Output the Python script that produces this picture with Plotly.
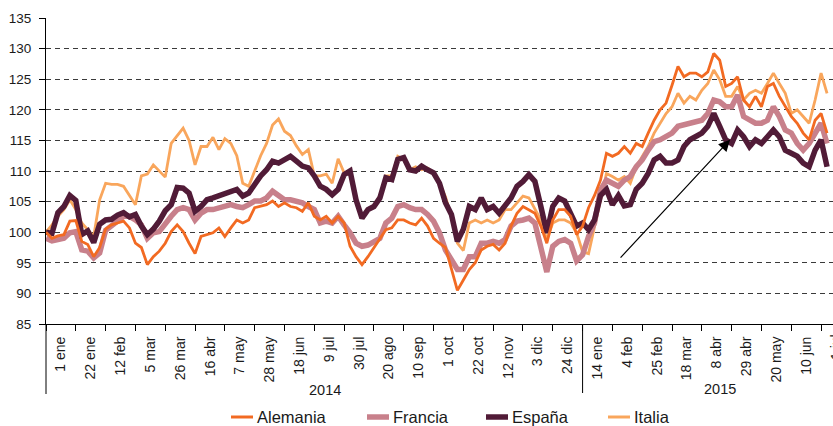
import plotly.graph_objects as go

# ---------------- data (index 100 = 1 ene 2014), one reading every 3 business days ----------------
alemania = [100, 99, 99.4, 99.6, 101.8, 101.9, 98.5, 98, 96, 97.5, 100.5, 101.2, 101.5, 101.8, 100.7, 98.2, 97.5, 94.7, 96, 96.9, 98.2, 100.1, 101.2, 100.1,
            98.2, 96.5, 99.3, 99.6, 99.9, 100.7, 99.3, 100.7, 102, 101.5, 102, 104, 104.2, 104.5, 105.1, 104.2, 104.8, 104.2, 104, 103.4, 104.8, 102.6,
            102, 102.6, 101.5, 102.6, 101.5, 97.7, 96, 94.7, 96, 97.4, 98.8, 100.4, 100.7, 102, 102, 101.5, 101.2, 102.3, 101, 99, 98.2, 97.5, 94,
            90.5, 92.2, 93.9, 95, 97.1, 97.7, 98, 97.1, 98.2, 101, 103.1, 104.2, 103.7, 103.1, 101, 98.2, 102, 103.7, 103.7, 102.6, 99.6, 101, 104,
            106, 108.5, 112.9, 112.4, 112.9, 114, 112.9, 114.5, 114, 116.2, 118.3, 120, 121.1, 124, 127.1, 125.4, 126, 126, 125.4, 126.2,
            129.2, 128.1, 123.8, 124.3, 125.4, 121.6, 120.5, 122.2, 120.5, 123.8, 124.3, 122.2, 120.5, 118.9, 117.8, 116.2, 115.1, 118.3, 119.4, 116.2]

francia = [99, 98.6, 98.8, 99, 99.9, 100.1, 97.1, 96.9, 95.8, 96.6, 100.3, 101.2, 101.8, 102.6, 102.6, 102, 101.2, 99, 99.9, 100.1, 101.5, 102.6, 103.7, 104,
           103.7, 102, 103.1, 103.7, 103.7, 104, 104.2, 104.5, 104.2, 104, 104.5, 105.1, 105.1, 105.6, 106.7, 106.1, 105.3, 105.3, 105.1, 104.8, 104.2, 103.7,
           101.5, 101.8, 101.5, 102.6, 101.2, 99.9, 98.2, 97.7, 97.9, 98.5, 99, 101.5, 102.3, 104.2, 104.5, 104, 103.7, 103.7, 102.9, 101.8, 99.9, 97.1, 95.5,
           93.9, 93.9, 96, 96, 98.2, 98.2, 98.5, 98.2, 98.8, 101, 101.8, 102, 102.3, 101.5, 97.1, 93.5, 97.7, 98.5, 98.8, 98.2, 95.3, 96.3, 99.3,
           101.5, 106.9, 108.5, 108, 107.5, 108.5, 109.1, 110.7, 111.8, 113.4, 114.8, 115.1, 115.6, 116.2, 117.3, 117.5, 117.8, 118.1, 118.3, 119.4,
           121.6, 121.3, 120.5, 120.5, 122.4, 118.9, 118.3, 117.8, 117.8, 118.3, 120.5, 118.9, 116.7, 116.2, 114.5, 113.4, 114.5, 116.2, 117.8, 114.5]

espana = [100, 99.8, 103.2, 104.2, 106, 105.2, 99.6, 100.2, 98.3, 101.3, 102, 102.1, 102.8, 103.2, 102.5, 102.9, 101, 99.6, 100.5, 101.8, 103.5, 104.5, 107.3, 107.2,
          106.4, 103.4, 104.2, 105.3, 105.6, 105.9, 106.4, 106.7, 107, 105.9, 106.4, 107.8, 109.2, 110.2, 111.6, 111.3, 111.9, 112.4, 111.6, 110.8, 110.5, 109.2,
          107.5, 107, 106.1, 107, 109.4, 110, 105.3, 102.3, 103.7, 104.2, 105.6, 108.9, 108.6, 111.9, 112.2, 110.2, 110, 110.8, 110.2, 109.7, 108, 104.8, 102.9,
          98.5, 100.5, 104.2, 103.7, 105.6, 103.7, 104.2, 103.1, 104.5, 105.6, 107.5, 108.3, 109.4, 108.3, 104.2, 99.9, 104.2, 105.6, 105.1, 103.1, 101, 101.5, 100.4,
          102, 106, 107, 104.5, 106, 104.3, 104.5, 107, 108, 109.6, 111.8, 112.4, 111.3, 111.3, 111.8, 114, 115.1, 115.6, 116.2, 117.3,
          119.4, 117.3, 115.1, 114.5, 116.7, 115.6, 114, 115.1, 114.5, 115.6, 116.7, 115.6, 113.4, 112.9, 112.4, 111.3, 110.7, 113.4, 115.1, 110.7]

italia = [100, 101.2, 102.6, 103.7, 105.3, 103.7, 101.5, 100.4, 99.3, 105.3, 108, 107.8, 107.8, 107.5, 106, 104.5, 109.2, 109.5, 111, 110, 109, 114.5, 115.8, 117,
          115, 111, 114, 114, 115.5, 113.5, 115.3, 114.5, 112.5, 108, 107.5, 110, 112.5, 114.5, 117.5, 118.5, 116.5, 115.8, 114.1, 112.7, 113.5, 109.2,
          109.2, 109.5, 108, 112, 109.7, 109.5, 105.3, 102.6, 103.7, 104.2, 106, 109.2, 109.2, 112.4, 111.9, 110.2, 110.7, 110.2, 110.5, 109.7, 108, 105.8, 102.6,
          98.2, 97, 101.5, 102, 101.5, 102, 101.5, 102, 103.7, 103.7, 104.8, 105.9, 105.6, 103.7, 102, 98.8, 101.5, 102, 102, 101.5, 99.9, 96.8, 96.5,
          100.9, 105.3, 109.6, 109.1, 108.5, 109.1, 108, 110.7, 112.4, 114, 116.2, 117.8, 119.4, 120.5, 122.7, 121.1, 122.2, 121.6, 123.2, 124.3,
          126.5, 124.9, 122.2, 122.2, 123.8, 121.6, 122.7, 123.2, 122.7, 124.3, 126, 124.3, 122.7, 119.4, 120, 118.9, 117.8, 121.6, 126, 122.7]

paso = 3                                   # business days between readings
dias = [i * paso for i in range(len(alemania))]

etiquetas = ["1 ene", "22 ene", "12 feb", "5 mar", "26 mar", "16 abr", "7 may", "28 may", "18 jun",
             "9 jul", "30 jul", "20 ago", "10 sep", "1 oct", "22 oct", "12 nov", "3 dic", "24 dic",
             "14 ene", "4 feb", "25 feb", "18 mar", "8 abr", "29 abr", "20 may", "10 jun", "1 jul"]
dias_por_etiqueta = 15
anios = ["2014", "2015"]
etiquetas_2014 = 18
flecha_desde = (288.4, 95.6)
flecha_hasta = (344.2, 115.1)

# ---------------- styling ----------------
W, H = 833, 426
L, R, T, B = 46, 0, 18, 102
XMAX = 396
FONT = "Arial, Liberation Sans, sans-serif"
TXT = "#1a1a1a"

series = [
    ("Italia", italia, "#F9A65C", 2.8),
    ("Francia", francia, "#C8808B", 5.5),
    ("España", espana, "#511B37", 5.5),
    ("Alemania", alemania, "#F26A22", 2.8),
]

fig = go.Figure()
for nombre, vals, color, lw in series:
    fig.add_trace(go.Scatter(x=dias, y=vals, mode="lines", name=nombre,
                             line=dict(color=color, width=lw), showlegend=False))

pw = W - L - R
ph = H - T - B


def px_x(p):
    return (p - L) / pw


def px_y(p):
    return (H - B - p) / ph


shapes = []
annotations = []

# y-axis line extended down through the category area, and year separator
shapes.append(dict(type="line", xref="paper", yref="paper", x0=0, x1=0, y0=0, y1=px_y(394),
                   line=dict(color="black", width=1)))
sep_x = etiquetas_2014 * dias_por_etiqueta
shapes.append(dict(type="line", xref="x", yref="paper", x0=sep_x, x1=sep_x, y0=0, y1=px_y(393),
                   line=dict(color="black", width=1)))

# year labels
annotations.append(dict(text=anios[0], xref="paper", yref="paper", x=px_x(325), y=px_y(390),
                        xanchor="center", yanchor="middle",
                        showarrow=False, font=dict(family=FONT, size=14.5, color=TXT)))
annotations.append(dict(text=anios[1], xref="paper", yref="paper", x=px_x(720), y=px_y(389),
                        xanchor="center", yanchor="middle",
                        showarrow=False, font=dict(family=FONT, size=14.5, color=TXT)))

# last (cut-off) category label beyond the plotted range
last_pos = 7.5 + dias_por_etiqueta * (len(etiquetas) - 1)
annotations.append(dict(text=etiquetas[-1], xref="paper", yref="paper", x=last_pos / XMAX, y=px_y(332),
                        xanchor="center", yanchor="top", textangle=-90, showarrow=False,
                        font=dict(family=FONT, size=14, color=TXT)))

# arrow
annotations.append(dict(text="", x=flecha_hasta[0], y=flecha_hasta[1], ax=flecha_desde[0], ay=flecha_desde[1],
                        xref="x", yref="y", axref="x", ayref="y", showarrow=True,
                        arrowhead=2, arrowsize=1.9, arrowwidth=1.2, arrowcolor="black"))

# legend (manual, to match sample length/spacing)
leyenda = [("Alemania", "#F26A22", 3, 231), ("Francia", "#C8808B", 5.5, 367),
           ("España", "#511B37", 5.5, 486), ("Italia", "#F9A65C", 3, 608)]
ly = 417
for nombre, color, lw, x0 in leyenda:
    shapes.append(dict(type="line", xref="paper", yref="paper", x0=px_x(x0), x1=px_x(x0 + 22),
                       y0=px_y(ly), y1=px_y(ly), line=dict(color=color, width=lw)))
    annotations.append(dict(text=nombre, xref="paper", yref="paper", x=px_x(x0 + 24), y=px_y(ly),
                            xanchor="left", yanchor="middle", showarrow=False,
                            font=dict(family=FONT, size=16.5, color=TXT)))

fig.update_layout(
    width=W, height=H,
    margin=dict(l=L, r=R, t=T, b=B, pad=0, autoexpand=False),
    paper_bgcolor="white", plot_bgcolor="white",
    showlegend=False,
    shapes=shapes, annotations=annotations,
    xaxis=dict(range=[0, XMAX], tickmode="array", automargin=False,
               tickvals=[7.5 + dias_por_etiqueta * i for i in range(len(etiquetas))],
               ticktext=etiquetas, tickangle=-90, ticks="", ticklabelstandoff=6,
               showline=True, linecolor="black", linewidth=1, showgrid=False, zeroline=False,
               tickfont=dict(family=FONT, size=14, color=TXT),
               minor=dict(tickmode="linear", tick0=0, dtick=dias_por_etiqueta, ticks="outside",
                          ticklen=6, tickcolor="black", tickwidth=1, showgrid=False)),
    yaxis=dict(range=[85, 135], tickmode="linear", tick0=85, dtick=5, ticks="outside", ticklen=6,
               automargin=False, ticklabelstandoff=5,
               tickcolor="black", showline=True, linecolor="black", linewidth=1,
               showgrid=True, gridcolor="#3a3a3a", gridwidth=1, griddash="5px,4px", zeroline=False,
               tickfont=dict(family=FONT, size=13.5, color=TXT)),
)

fig.write_html("out.html", config={"displayModeBar": False},
               post_script="document.body.style.margin='0px';document.body.style.overflow='hidden';")
